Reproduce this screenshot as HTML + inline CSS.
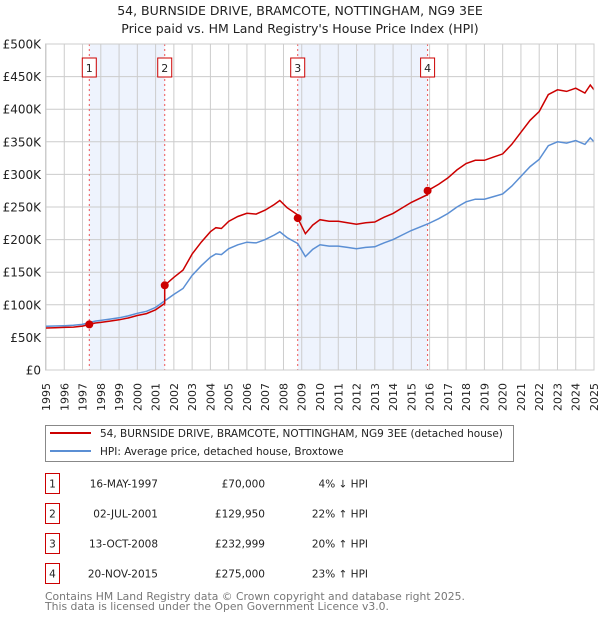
<!DOCTYPE html>
<html><head><meta charset="utf-8"><style>
body{margin:0;background:#fff;font-family:"DejaVu Sans","Liberation Sans",sans-serif;}
svg text{font-family:"DejaVu Sans","Liberation Sans",sans-serif;}
</style></head><body>
<svg id="c" width="600" height="620" xmlns="http://www.w3.org/2000/svg"></svg>
<script>
const hpiYears=[1995,1995.5,1996,1996.5,1997,1997.37,1997.7,1998,1998.5,1999,1999.5,2000,2000.5,2001,2001.5,2002,2002.5,2003,2003.5,2004,2004.3,2004.6,2005,2005.5,2006,2006.5,2007,2007.5,2007.8,2008.2,2008.78,2009.2,2009.6,2010,2010.5,2011,2011.5,2012,2012.5,2013,2013.5,2014,2014.5,2015,2015.89,2016.5,2017,2017.5,2018,2018.5,2019,2019.5,2020,2020.5,2021,2021.5,2022,2022.5,2023,2023.5,2024,2024.5,2024.8,2025];
const hpiValues=[67000,67500,68000,68500,70000,72800,75000,76000,78000,80000,83000,87000,90000,96000,106000,116000,125000,145000,160000,173000,178000,177000,186000,192000,196000,195000,200000,207000,212000,203000,194000,174000,185000,192000,190000,190000,188000,186000,188000,189000,195000,200000,207000,214000,224000,232000,240000,250000,258000,262000,262000,266000,270000,282000,297000,312000,323000,344000,350000,348000,352000,346000,356000,350000];
const saleYears=[1997.37,2001.5,2008.78,2015.89];
const salePrices=[70000,129950,232999,275000];
const saleLabels=["1","2","3","4"];
const yTicks=[0,50000,100000,150000,200000,250000,300000,350000,400000,450000,500000];
const yTickLabels=["£0","£50K","£100K","£150K","£200K","£250K","£300K","£350K","£400K","£450K","£500K"];
const xTicks=[1995,1996,1997,1998,1999,2000,2001,2002,2003,2004,2005,2006,2007,2008,2009,2010,2011,2012,2013,2014,2015,2016,2017,2018,2019,2020,2021,2022,2023,2024,2025];

const NS="http://www.w3.org/2000/svg",svg=document.getElementById('c');
const X0=46,X1=594,Y0=370,Y1=44;
const xs=v=>X0+(v-1995)/30*(X1-X0);
const ys=v=>Y0-v/500000*(Y0-Y1);
function el(t,a,p){const e=document.createElementNS(NS,t);for(const k in a)e.setAttribute(k,a[k]);(p||svg).appendChild(e);return e;}
function hpiAt(y){for(let i=0;i<hpiYears.length-1;i++){if(y<=hpiYears[i+1]){const f=(y-hpiYears[i])/(hpiYears[i+1]-hpiYears[i]);return hpiValues[i]+f*(hpiValues[i+1]-hpiValues[i]);}}return hpiValues[hpiValues.length-1];}

let t=el('text',{x:300,y:15,'text-anchor':'middle','font-size':12.5,fill:'#222'});t.textContent="54, BURNSIDE DRIVE, BRAMCOTE, NOTTINGHAM, NG9 3EE";

t=el('text',{x:300,y:33,'text-anchor':'middle','font-size':12.5,fill:'#222'});t.textContent="Price paid vs. HM Land Registry's House Price Index (HPI)";


for(let i=0;i<saleYears.length;i+=2){const r=el('rect',{x:xs(saleYears[i]),y:Y1,width:xs(saleYears[i+1])-xs(saleYears[i]),height:Y0-Y1,fill:'#eef3fd'});
}
xTicks.forEach(v=>{const l=el('line',{x1:xs(v),x2:xs(v),y1:Y1,y2:Y0,stroke:'#cccccc','stroke-width':1});

const tx=el('text',{transform:`translate(${xs(v)+4},${383}) rotate(-90)`,'text-anchor':'end','font-size':11,fill:'#222'});tx.textContent=v;
});
yTicks.forEach((v,i)=>{const l=el('line',{x1:X0,x2:X1,y1:ys(v),y2:ys(v),stroke:'#cccccc','stroke-width':1});

const tx=el('text',{x:41,y:ys(v)+4.5,'text-anchor':'end','font-size':12,fill:'#222'});tx.textContent=yTickLabels[i];
});
el('line',{x1:X1,x2:X1,y1:Y1,y2:Y0,stroke:'#888','stroke-width':1});
saleYears.forEach((s,i)=>{const l=el('line',{x1:xs(s),x2:xs(s),y1:Y1,y2:Y0,stroke:'#ee5555','stroke-width':1,'stroke-dasharray':'2,3'});
});
let d=hpiYears.map((y,i)=>(i?'L':'M')+xs(y).toFixed(1)+','+ys(hpiValues[i]).toFixed(1)).join('');
let p=el('path',{d,fill:'none',stroke:'#5b8fd4','stroke-width':1.5});

function ratioAt(y){let k=0;for(let i=0;i<saleYears.length;i++)if(y>=saleYears[i]-1e-6)k=i;return salePrices[k]/hpiAt(saleYears[k]);}
let pts=[];hpiYears.forEach((y,i)=>{saleYears.forEach((s,j)=>{if(s>(i?hpiYears[i-1]:0)&&s<y&&j>0){pts.push([s,salePrices[j-1]/hpiAt(saleYears[j-1])*hpiAt(s)]);pts.push([s,salePrices[j]]);}});
  if(saleYears.includes(y)){const j=saleYears.indexOf(y);if(j>0)pts.push([y,salePrices[j-1]/hpiAt(saleYears[j-1])*hpiAt(y)]);pts.push([y,salePrices[j]]);}
  else pts.push([y,ratioAt(y)*hpiValues[i]]);});
d=pts.map((q,i)=>(i?'L':'M')+xs(q[0]).toFixed(1)+','+ys(q[1]).toFixed(1)).join('');
p=el('path',{d,fill:'none',stroke:'#cc0000','stroke-width':1.5});

saleYears.forEach((s,i)=>{const c=el('circle',{cx:xs(s),cy:ys(salePrices[i]),r:4,fill:'#cc0000'});

const g=el('g',{});
el('rect',{x:xs(s)-7,y:58,width:14,height:19,fill:'#fff',stroke:'#cc0000','stroke-width':1},g);
const tx=el('text',{x:xs(s),y:72,'text-anchor':'middle','font-size':11,fill:'#222'},g);tx.textContent=saleLabels[i];});
el('rect',{x:X0-0.5,y:Y1,width:X1-X0+0.5,height:Y0-Y1,fill:'none',stroke:'#cccccc'});

let g=el('g',{});
el('rect',{x:45.5,y:425.5,width:468,height:36,fill:'#fff',stroke:'#888'},g);
el('line',{x1:50,x2:91,y1:433,y2:433,stroke:'#cc0000','stroke-width':2},g);
t=el('text',{x:100,y:437,'font-size':10.5,fill:'#222'},g);t.textContent="54, BURNSIDE DRIVE, BRAMCOTE, NOTTINGHAM, NG9 3EE (detached house)";

el('line',{x1:50,x2:91,y1:451,y2:451,stroke:'#5b8fd4','stroke-width':2},g);
t=el('text',{x:100,y:455,'font-size':10.5,fill:'#222'},g);t.textContent="HPI: Average price, detached house, Broxtowe";


const dates=["16-MAY-1997","02-JUL-2001","13-OCT-2008","20-NOV-2015"],prices=["£70,000","£129,950","£232,999","£275,000"],rel=["4% ↓ HPI","22% ↑ HPI","20% ↑ HPI","23% ↑ HPI"];
dates.forEach((dt,i)=>{const cy=483+i*30;const r=el('g',{});
el('rect',{x:45.5,y:cy-9.5,width:14,height:20,fill:'#fff',stroke:'#cc0000'},r);
let a=el('text',{x:52.5,y:cy+4.5,'text-anchor':'middle','font-size':10.5,fill:'#222'},r);a.textContent=saleLabels[i];
a=el('text',{x:158,y:cy+4.5,'text-anchor':'end','font-size':10.5,fill:'#222'},r);a.textContent=dt;
a=el('text',{x:265,y:cy+4.5,'text-anchor':'end','font-size':10.5,fill:'#222'},r);a.textContent=prices[i];
a=el('text',{x:368,y:cy+4.5,'text-anchor':'end','font-size':10.5,fill:'#222'},r);a.textContent=rel[i];});
t=el('text',{x:45,y:600,'font-size':10.8,fill:'#777'});t.textContent="Contains HM Land Registry data © Crown copyright and database right 2025.";

t=el('text',{x:45,y:610,'font-size':10.8,fill:'#777'});t.textContent="This data is licensed under the Open Government Licence v3.0.";

</script>
</body></html>
